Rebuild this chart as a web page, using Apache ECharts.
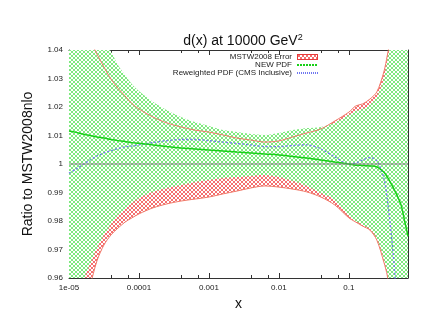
<!DOCTYPE html>
<html lang="en">
<head>
    <meta charset="UTF-8">
    <title>d(x) at 10000 GeV2</title>
    <script src="https://cdn.jsdelivr.net/npm/echarts@6/dist/echarts.min.js"></script>
</head>
<body style="margin:0;background:#fff">
<div id="chart" style="width:434px;height:335px"></div>
<script type="text/javascript">
    // x values (log scale)
    var xs = [1e-5, 1.26e-5, 1.58e-5, 2e-5, 2.51e-5, 3.16e-5, 3.98e-5, 5.01e-5, 6.31e-5, 7.94e-5,
        1e-4, 1.58e-4, 2.51e-4, 3.98e-4, 6.31e-4, 1e-3, 1.58e-3, 2.51e-3, 3.98e-3, 6.31e-3,
        0.01, 0.0158, 0.0251, 0.0398, 0.0631, 0.1, 0.126, 0.158, 0.2, 0.251,
        0.316, 0.355, 0.398, 0.447, 0.501, 0.562, 0.631, 0.7];

    // MSTW2008 error band
    var mstwUp = [1.065, 1.058, 1.050, 1.0435, 1.0386, 1.034, 1.0298, 1.0266, 1.0239, 1.0212,
        1.0193, 1.0165, 1.0144, 1.013, 1.0119, 1.0112, 1.0102, 1.0091, 1.0084, 1.0077,
        1.0081, 1.0095, 1.0109, 1.0123, 1.0151, 1.0182, 1.0204, 1.0211, 1.0228, 1.0253,
        1.0323, 1.0382, 1.045, 1.055, 1.065, 1.075, 1.085, 1.095];
    var mstwLo = [0.90, 0.925, 0.946, 0.957, 0.966, 0.9716, 0.9751, 0.9775, 0.9796, 0.9811,
        0.9825, 0.9846, 0.986, 0.987, 0.9877, 0.9884, 0.9895, 0.9905, 0.9916, 0.9923,
        0.9919, 0.9912, 0.9902, 0.9884, 0.9856, 0.9811, 0.9796, 0.9782, 0.9768, 0.9733,
        0.9656, 0.9607, 0.952, 0.94, 0.93, 0.92, 0.91, 0.90];

    // NEW PDF error band
    var newUp = [1.075, 1.065, 1.057, 1.051, 1.046, 1.0425, 1.0395, 1.0347, 1.0312, 1.028,
        1.0256, 1.0218, 1.0189, 1.0165, 1.0147, 1.0133, 1.0119, 1.0112, 1.0105, 1.0102,
        1.0109, 1.0119, 1.0126, 1.013, 1.0145, 1.0172, 1.0186, 1.0193, 1.0207, 1.0235,
        1.0298, 1.0365, 1.044, 1.055, 1.065, 1.075, 1.085, 1.095];
    var newLo = [0.93, 0.945, 0.9585, 0.9649, 0.9705, 0.9751, 0.9789, 0.9821, 0.9842, 0.9863,
        0.9881, 0.9902, 0.9916, 0.9926, 0.9937, 0.9944, 0.9951, 0.9954, 0.9958, 0.9961,
        0.9954, 0.994, 0.9923, 0.9898, 0.9874, 0.9818, 0.98, 0.9786, 0.9772, 0.974,
        0.9667, 0.9614, 0.951, 0.94, 0.93, 0.92, 0.91, 0.90];

    // NEW PDF central value
    var newMid = [1.0116, 1.0111, 1.0105, 1.01, 1.0095, 1.0091, 1.0086, 1.0082, 1.0079, 1.0075,
        1.0073, 1.0067, 1.0061, 1.0056, 1.0053, 1.0049, 1.0046, 1.0042, 1.0039, 1.0035,
        1.0032, 1.0026, 1.0021, 1.0014, 1.0007, 1.0, 0.9996, 0.9995, 0.9993, 0.999,
        0.9972, 0.9954, 0.9933, 0.9909, 0.9884, 0.9853, 0.9796, 0.9747];

    // Reweighted PDF (CMS Inclusive)
    var rew = [0.9968, 0.9982, 0.9998, 1.0014, 1.0028, 1.0039, 1.0047, 1.0054, 1.006, 1.0063,
        1.0067, 1.0075, 1.0082, 1.0086, 1.0086, 1.0082, 1.0077, 1.0072, 1.0067, 1.0061,
        1.0061, 1.0065, 1.0067, 1.0053, 1.0025, 1.0, 1.0004, 1.0014, 1.0023, 1.0011,
        0.9951, 0.9874, 0.9768, 0.9635, 0.945, 0.93, null, null];

    var xTickLabels = {'-5': '1e-05', '-4': '0.0001', '-3': '0.001', '-2': '0.01', '-1': '0.1'};

    var RED = '#f47070', GREEN = '#7eea7e', LINE_RED = '#f07a6a',
        LINE_GREEN = '#18d018', LINE_BLUE = '#6f78f0';

    // gnuplot style cross hatch
    function hatchCanvas(color, bg) {
        var c = document.createElement('canvas');
        c.width = 4; c.height = 4;
        var ctx = c.getContext('2d');
        if (bg) { ctx.fillStyle = bg; ctx.fillRect(0, 0, 4, 4); }
        ctx.fillStyle = color;
        for (var i = 0; i < 4; i++) {
            ctx.fillRect(i, i, 1, 1);
            ctx.fillRect(3 - i, i, 1, 1);
        }
        return c;
    }
    var redHatch = {image: hatchCanvas(RED, null), repeat: 'repeat'};
    var greenHatch = {image: hatchCanvas(GREEN, '#ffffff'), repeat: 'repeat'};

    // legend keys drawn as small images
    function keyIcon(draw) {
        var c = document.createElement('canvas');
        c.width = 21; c.height = 6;
        draw(c.getContext('2d'));
        return 'image://' + c.toDataURL();
    }
    var mstwKey = keyIcon(function (ctx) {
        ctx.fillStyle = ctx.createPattern(hatchCanvas(RED, null), 'repeat');
        ctx.fillRect(0, 0, 21, 6);
        ctx.strokeStyle = '#e83a3a';
        ctx.strokeRect(0.5, 0.5, 20, 5);
    });
    var newKey = keyIcon(function (ctx) {
        ctx.fillStyle = LINE_GREEN;
        for (var x = 0; x < 21; x += 3) ctx.fillRect(x, 2, 2, 2);
    });
    var rewKey = keyIcon(function (ctx) {
        ctx.fillStyle = LINE_BLUE;
        for (var x = 0; x < 21; x += 2) ctx.fillRect(x, 2, 1, 2);
    });

    function pairs(ys) {
        return xs.map(function (x, i) { return [x, ys[i]]; });
    }

    // band polygon through the axis scales
    function band(name, up, lo, fill) {
        return {
            name: name, type: 'custom', clip: true, silent: true,
            data: [[xs[0], lo[0]]],
            renderItem: function (params, api) {
                var pts = [];
                for (var i = 0; i < xs.length; i++) pts.push(api.coord([xs[i], up[i]]));
                for (var j = xs.length - 1; j >= 0; j--) pts.push(api.coord([xs[j], lo[j]]));
                return {
                    type: 'polygon',
                    shape: {points: pts, smooth: 0.3},
                    style: {fill: fill, stroke: null}
                };
            }
        };
    }

    var font = 'Liberation Sans';
    var axisCol = '#333';

    function xAxis(pos, labels) {
        return {
            type: 'log', logBase: 10, min: 1e-5, max: 0.7, position: pos,
            axisLine: {show: true, onZero: false, lineStyle: {color: axisCol, width: 1}},
            axisTick: {show: true, inside: true, length: 5, lineStyle: {color: axisCol}},
            minorTick: {show: true, splitNumber: 3, length: 3, lineStyle: {color: axisCol}},
            splitLine: {show: false},
            axisLabel: {
                show: labels, fontFamily: font, fontSize: 8, color: '#222', margin: 6,
                showMaxLabel: false,
                formatter: function (v) {
                    var k = Math.round(Math.log10(v));
                    return Math.abs(Math.log10(v) - k) < 1e-6 ? (xTickLabels[k] || '') : '';
                }
            },
            name: labels ? 'x' : '', nameLocation: 'middle', nameGap: 16,
            nameTextStyle: {fontFamily: font, fontSize: 14, color: '#111'}
        };
    }
    function yAxis(pos, labels) {
        return {
            type: 'value', min: 0.96, max: 1.04, interval: 0.01, position: pos,
            axisLine: {show: true, onZero: false, lineStyle: {color: axisCol, width: 1}},
            axisTick: {show: true, inside: true, length: 5, lineStyle: {color: axisCol}},
            splitLine: {show: false},
            axisLabel: {show: labels, fontFamily: font, fontSize: 8, color: '#222', margin: 6},
            name: labels ? 'Ratio to MSTW2008nlo' : '', nameLocation: 'middle', nameGap: 34,
            nameTextStyle: {fontFamily: font, fontSize: 14, color: '#111'}
        };
    }

    var chart = echarts.init(document.getElementById('chart'));
    var option = {
        backgroundColor: '#fff',
        animation: false,
        title: {
            text: '{a|d(x) at 10000 GeV}{b|2}',
            left: 238, top: 28, textAlign: 'center',
            textStyle: {
                rich: {
                    a: {fontFamily: font, fontSize: 14, fontWeight: 'normal', color: '#111'},
                    b: {fontFamily: font, fontSize: 9, fontWeight: 'normal', color: '#111', padding: [0, 0, 8, 0]}
                }
            }
        },
        legend: {
            orient: 'vertical', right: 116, top: 53, align: 'right',
            itemWidth: 21, itemHeight: 6, itemGap: 0, padding: 0,
            textStyle: {fontFamily: font, fontSize: 8, color: '#222', lineHeight: 8},
            data: [
                {name: 'MSTW2008 Error', icon: mstwKey},
                {name: 'NEW PDF', icon: newKey},
                {name: 'Reweighted PDF (CMS Inclusive)', icon: rewKey}
            ]
        },
        grid: {left: 69, right: 26, top: 50, bottom: 57},
        xAxis: [xAxis('bottom', true), xAxis('top', false)],
        yAxis: [yAxis('left', true), yAxis('right', false)],
        series: [
            band('MSTW2008 Error', mstwUp, mstwLo, redHatch),
            band('NEW band', newUp, newLo, greenHatch),
            {type: 'line', data: pairs(mstwUp), symbol: 'none', smooth: 0.3, silent: true,
                lineStyle: {color: LINE_RED, width: 1}},
            {type: 'line', data: pairs(mstwLo), symbol: 'none', smooth: 0.3, silent: true,
                lineStyle: {color: LINE_RED, width: 1}},
            {name: 'Reweighted PDF (CMS Inclusive)', type: 'line', data: pairs(rew), symbol: 'none', smooth: 0.3,
                lineStyle: {color: LINE_BLUE, type: [2, 2], width: 1.3}},
            {name: 'NEW PDF', type: 'line', data: pairs(newMid), symbol: 'none', smooth: 0.3,
                lineStyle: {color: LINE_GREEN, width: 1.5}},
            {type: 'line', data: [[1e-5, 1], [0.7, 1]], symbol: 'none', silent: true,
                lineStyle: {color: '#808080', width: 1}}
        ]
    };
    chart.setOption(option);
</script>
</body>
</html>
